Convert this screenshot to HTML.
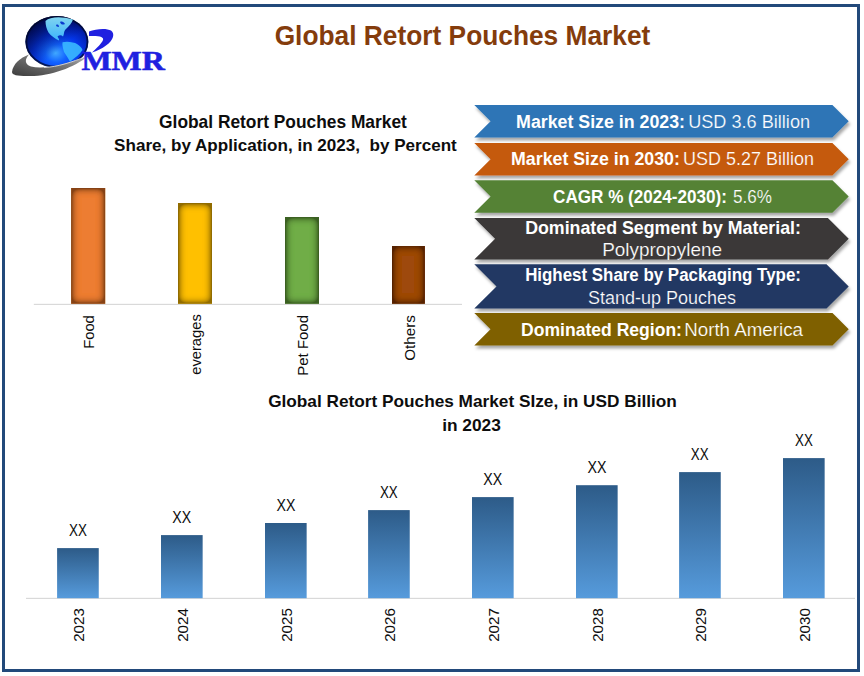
<!DOCTYPE html><html><head><meta charset="utf-8"><style>html,body{margin:0;padding:0;background:#fff;width:864px;height:676px;overflow:hidden}svg{display:block}text{font-family:"Liberation Sans",sans-serif;white-space:pre}</style></head><body>
<svg width="864" height="676" viewBox="0 0 864 676">
<defs>
<filter id="sh" x="-5%" y="-20%" width="115%" height="160%"><feDropShadow dx="1.5" dy="3" stdDeviation="1.6" flood-color="#000" flood-opacity="0.35"/></filter>
<filter id="ins" x="-30%" y="-10%" width="160%" height="120%"><feFlood flood-color="#000" flood-opacity="1" result="f"/><feComposite in="f" in2="SourceAlpha" operator="out" result="inv"/><feGaussianBlur in="inv" stdDeviation="4.5" result="b"/><feComponentTransfer in="b" result="b2"><feFuncA type="linear" slope="2.2"/></feComponentTransfer><feComponentTransfer in="b2" result="b3"><feFuncA type="linear" slope="0.72"/></feComponentTransfer><feComposite in="b3" in2="SourceAlpha" operator="in" result="s"/><feMerge><feMergeNode in="SourceGraphic"/><feMergeNode in="s"/></feMerge></filter>
<linearGradient id="bg" x1="0" y1="0" x2="0" y2="1"><stop offset="0" stop-color="#2d5b88"/><stop offset="1" stop-color="#569bdc"/></linearGradient>
<radialGradient id="globe" cx="0.52" cy="0.74" r="0.78" fx="0.48" fy="0.72"><stop offset="0" stop-color="#40a8ff"/><stop offset="0.22" stop-color="#1263ff"/><stop offset="0.48" stop-color="#0436ea"/><stop offset="0.72" stop-color="#0220b0"/><stop offset="0.9" stop-color="#010e70"/><stop offset="1" stop-color="#000530"/></radialGradient><linearGradient id="na" x1="0" y1="0" x2="0" y2="1"><stop offset="0" stop-color="#8ae6ff"/><stop offset="1" stop-color="#40bfff"/></linearGradient>
<linearGradient id="ul" x1="0.1" y1="0.1" x2="0.6" y2="0.6"><stop offset="0" stop-color="#000530" stop-opacity="0.75"/><stop offset="1" stop-color="#000530" stop-opacity="0"/></linearGradient><linearGradient id="sw" x1="0" y1="1" x2="1" y2="0"><stop offset="0" stop-color="#3c3c3c"/><stop offset="0.6" stop-color="#777"/><stop offset="1" stop-color="#bbb"/></linearGradient>
</defs>
<rect x="3.5" y="5.5" width="855" height="665" fill="none" stroke="#22497a" stroke-width="3"/>
<g id="logo">
<ellipse cx="56.9" cy="41.8" rx="31.4" ry="25.8" fill="url(#globe)"/>
<ellipse cx="56.9" cy="41.8" rx="31.4" ry="25.8" fill="url(#ul)"/>
<ellipse cx="56.9" cy="41.8" rx="30.6" ry="25" fill="none" stroke="#000828" stroke-opacity="0.75" stroke-width="1.8"/>
<path d="M45.5 21 C50 17 60 16 73 19.5 C72 23 69 26 66 29 C63.5 31 64.5 34 63 36.5 C61.5 35 59.5 34.5 57.5 36.5 C58 38 59.5 39 59 40.5 C55 38.5 51 36 48.5 32.5 C46.5 29 45.5 25 45.5 21 Z" fill="url(#na)" opacity="0.92"/>
<path d="M60 22 C62 21 64 22 65 24 C63 25 61 25 60 22 Z M56 25 C58 24 59 25 59 27 C57 27 56 26 56 25 Z" fill="#0a3cd0"/>
<path d="M62.5 42.2 C67 41 74 42 77 44 C80 46 82 48 82.5 50 C80 54 75 58 70 61.7 C68 58 66 55 64 52 C63 48 62 45 62.5 42.2 Z" fill="#3ab8ff" opacity="0.9"/>
<path d="M12 72 C13 64 20 58 29 54.5 C25 59 24 64 31 66.5 C46 70 70 63 88 56 C74 68 48 77 27 76 C17 76 12 75 12 72 Z" fill="url(#sw)"/>
<path d="M44 67.5 C58 67 72 62 86 56.5" fill="none" stroke="#d8d8d8" stroke-width="0.9"/>
<path d="M89 31.5 C96 28.5 107 28 111 30.5 C115 33 114 40 106 45.5 C102 48.5 97 51 92 52.5 C97 48 102 43 103 40 C104 37 100 35.5 89 36 Z" fill="#2020e0"/>
</g>
<rect x="33.8" y="303.8" width="428.2" height="1.2" fill="#d9d9d9"/>
<rect x="71.1" y="188" width="34.1" height="115.8" fill="#ed7d31" filter="url(#ins)"/>
<rect x="178" y="203" width="34.0" height="100.8" fill="#ffc000" filter="url(#ins)"/>
<rect x="285" y="217" width="34.0" height="86.8" fill="#70ad47" filter="url(#ins)"/>
<rect x="392" y="246" width="32.9" height="57.8" fill="#9e480e" filter="url(#ins)"/>
<polygon points="474.3,105 832.4,105 848.7,121.3 832.4,137.6 474.3,137.6 490.6,121.3" fill="#2e75b6" filter="url(#sh)"/>
<polygon points="474.3,143 832.4,143 848.7,159.3 832.4,175.6 474.3,175.6 490.6,159.3" fill="#c55a11" filter="url(#sh)"/>
<polygon points="474.3,180.2 832.4,180.2 848.7,196.5 832.4,212.8 474.3,212.8 490.6,196.5" fill="#548235" filter="url(#sh)"/>
<polygon points="474.3,218 827.9,218 848.7,238.8 827.9,259.6 474.3,259.6 495.1,238.8" fill="#3a3838" filter="url(#sh)"/>
<polygon points="474.3,264.2 826.5,264.2 848.7,286.4 826.5,308.6 474.3,308.6 496.5,286.4" fill="#203864" filter="url(#sh)"/>
<polygon points="474.3,313.1 832.5,313.1 848.7,329.3 832.5,345.5 474.3,345.5 490.5,329.3" fill="#7f6000" filter="url(#sh)"/>
<rect x="26" y="597.8" width="829" height="1.2" fill="#d9d9d9"/>
<rect x="57.1" y="548.1" width="41.65" height="50.1" fill="url(#bg)"/>
<rect x="161.0" y="535.1" width="41.65" height="63.1" fill="url(#bg)"/>
<rect x="265.0" y="523.0" width="41.65" height="75.2" fill="url(#bg)"/>
<rect x="368.1" y="510.1" width="41.65" height="88.1" fill="url(#bg)"/>
<rect x="472.0" y="497.1" width="41.65" height="101.1" fill="url(#bg)"/>
<rect x="576.0" y="485.2" width="41.65" height="113.0" fill="url(#bg)"/>
<rect x="679.1" y="472.1" width="41.65" height="126.1" fill="url(#bg)"/>
<rect x="783.0" y="458.1" width="41.65" height="140.1" fill="url(#bg)"/>
<text id="title" font-size="27.03" fill="#843c0c" font-weight="bold" x="274.67" y="44.60" textLength="375.70" lengthAdjust="spacingAndGlyphs">Global Retort Pouches Market</text>
<text id="lt1" font-size="17.59" fill="#0d0d0d" font-weight="bold" x="159.08" y="127.50" textLength="247.77" lengthAdjust="spacingAndGlyphs">Global Retort Pouches Market</text>
<text id="lt2" font-size="17.3" fill="#0d0d0d" font-weight="bold" x="114.08" y="151.30" textLength="342.74" lengthAdjust="spacingAndGlyphs">Share, by Application, in 2023,  by Percent</text>
<text id="lb1" font-size="15.2" fill="#0d0d0d" transform="translate(94.00,348.80) rotate(-90)" x="0" y="0" textLength="33.60" lengthAdjust="spacingAndGlyphs">Food</text>
<text id="lb2" font-size="15.2" fill="#0d0d0d" transform="translate(200.62,374.80) rotate(-90)" x="0" y="0" textLength="60.62" lengthAdjust="spacingAndGlyphs">everages</text>
<text id="lb3" font-size="15.2" fill="#0d0d0d" transform="translate(307.98,375.71) rotate(-90)" x="0" y="0" textLength="60.66" lengthAdjust="spacingAndGlyphs">Pet Food</text>
<text id="lb4" font-size="15.2" fill="#0d0d0d" transform="translate(415.00,360.82) rotate(-90)" x="0" y="0" textLength="45.68" lengthAdjust="spacingAndGlyphs">Others</text>
<text id="b1a" font-size="18.9" fill="#ffffff" font-weight="bold" x="516.09" y="127.60" textLength="168.92" lengthAdjust="spacingAndGlyphs">Market Size in 2023:</text>
<text id="b1b" font-size="18.6" fill="#ffffff" stroke="#2e75b6" stroke-width="0.2" x="688.14" y="127.60" textLength="121.92" lengthAdjust="spacingAndGlyphs">USD 3.6 Billion</text>
<text id="b2a" font-size="18.31" fill="#ffffff" font-weight="bold" x="511.07" y="164.70" textLength="168.85" lengthAdjust="spacingAndGlyphs">Market Size in 2030:</text>
<text id="b2b" font-size="18.31" fill="#ffffff" stroke="#c55a11" stroke-width="0.2" x="683.12" y="164.70" textLength="130.88" lengthAdjust="spacingAndGlyphs">USD 5.27 Billion</text>
<text id="b3a" font-size="17.88" fill="#ffffff" font-weight="bold" x="553.10" y="202.80" textLength="173.80" lengthAdjust="spacingAndGlyphs">CAGR % (2024-2030):</text>
<text id="b3b" font-size="17.88" fill="#ffffff" stroke="#548235" stroke-width="0.2" x="733.07" y="202.80" textLength="38.94" lengthAdjust="spacingAndGlyphs">5.6%</text>
<text id="b4a" font-size="17.88" fill="#ffffff" font-weight="bold" x="525.13" y="233.50" textLength="275.80" lengthAdjust="spacingAndGlyphs">Dominated Segment by Material:</text>
<text id="b4b" font-size="17.73" fill="#ffffff" stroke="#3a3838" stroke-width="0.2" x="602.21" y="255.70" textLength="119.81" lengthAdjust="spacingAndGlyphs">Polypropylene</text>
<text id="b5a" font-size="17.44" fill="#ffffff" font-weight="bold" x="525.15" y="281.40" textLength="275.77" lengthAdjust="spacingAndGlyphs">Highest Share by Packaging Type:</text>
<text id="b5b" font-size="17.88" fill="#ffffff" stroke="#203864" stroke-width="0.2" x="588.08" y="303.70" textLength="147.81" lengthAdjust="spacingAndGlyphs">Stand-up Pouches</text>
<text id="b6a" font-size="18.17" fill="#ffffff" font-weight="bold" x="521.11" y="335.70" textLength="160.86" lengthAdjust="spacingAndGlyphs">Dominated Region:</text>
<text id="b6b" font-size="18.17" fill="#ffffff" stroke="#7f6000" stroke-width="0.2" x="684.19" y="335.70" textLength="118.83" lengthAdjust="spacingAndGlyphs">North America</text>
<text id="bt1" font-size="17.01" fill="#0d0d0d" font-weight="bold" x="268.15" y="407.40" textLength="408.70" lengthAdjust="spacingAndGlyphs">Global Retort Pouches Market SIze, in USD Billion</text>
<text id="bt2" font-size="17.01" fill="#0d0d0d" font-weight="bold" x="442.15" y="430.80" textLength="58.73" lengthAdjust="spacingAndGlyphs">in 2023</text>
<text id="xx0" font-size="15.8" fill="#0d0d0d" x="69.03" y="536.20" textLength="17.89" lengthAdjust="spacingAndGlyphs">XX</text>
<text id="yr0" font-size="15.2" fill="#0d0d0d" transform="translate(83.71,641.80) rotate(-90)" x="0" y="0" textLength="33.64" lengthAdjust="spacingAndGlyphs">2023</text>
<text id="xx1" font-size="15.8" fill="#0d0d0d" x="172.28" y="523.20" textLength="18.88" lengthAdjust="spacingAndGlyphs">XX</text>
<text id="yr1" font-size="15.2" fill="#0d0d0d" transform="translate(187.87,641.80) rotate(-90)" x="0" y="0" textLength="33.64" lengthAdjust="spacingAndGlyphs">2024</text>
<text id="xx2" font-size="15.8" fill="#0d0d0d" x="276.52" y="511.10" textLength="18.88" lengthAdjust="spacingAndGlyphs">XX</text>
<text id="yr2" font-size="15.2" fill="#0d0d0d" transform="translate(292.11,641.80) rotate(-90)" x="0" y="0" textLength="33.64" lengthAdjust="spacingAndGlyphs">2025</text>
<text id="xx3" font-size="15.8" fill="#0d0d0d" x="379.95" y="498.20" textLength="17.77" lengthAdjust="spacingAndGlyphs">XX</text>
<text id="yr3" font-size="15.2" fill="#0d0d0d" transform="translate(394.64,641.80) rotate(-90)" x="0" y="0" textLength="33.64" lengthAdjust="spacingAndGlyphs">2026</text>
<text id="xx4" font-size="15.8" fill="#0d0d0d" x="483.20" y="485.20" textLength="18.94" lengthAdjust="spacingAndGlyphs">XX</text>
<text id="yr4" font-size="15.2" fill="#0d0d0d" transform="translate(498.79,641.80) rotate(-90)" x="0" y="0" textLength="33.64" lengthAdjust="spacingAndGlyphs">2027</text>
<text id="xx5" font-size="15.8" fill="#0d0d0d" x="587.44" y="473.35" textLength="18.94" lengthAdjust="spacingAndGlyphs">XX</text>
<text id="yr5" font-size="15.2" fill="#0d0d0d" transform="translate(603.02,641.80) rotate(-90)" x="0" y="0" textLength="33.64" lengthAdjust="spacingAndGlyphs">2028</text>
<text id="xx6" font-size="15.8" fill="#0d0d0d" x="690.87" y="460.20" textLength="17.83" lengthAdjust="spacingAndGlyphs">XX</text>
<text id="yr6" font-size="15.2" fill="#0d0d0d" transform="translate(705.56,641.80) rotate(-90)" x="0" y="0" textLength="33.64" lengthAdjust="spacingAndGlyphs">2029</text>
<text id="xx7" font-size="15.8" fill="#0d0d0d" x="795.02" y="446.20" textLength="17.77" lengthAdjust="spacingAndGlyphs">XX</text>
<text id="yr7" font-size="15.2" fill="#0d0d0d" transform="translate(809.71,641.80) rotate(-90)" x="0" y="0" textLength="33.64" lengthAdjust="spacingAndGlyphs">2030</text>
<text id="mmr" font-size="27.79" fill="#1f1fe0" font-weight="bold" style='font-family:"Liberation Serif",serif' stroke="#1f1fe0" stroke-width="0.6" x="81.44" y="69.60" textLength="83.43" lengthAdjust="spacingAndGlyphs">MMR</text>
</svg></body></html>
